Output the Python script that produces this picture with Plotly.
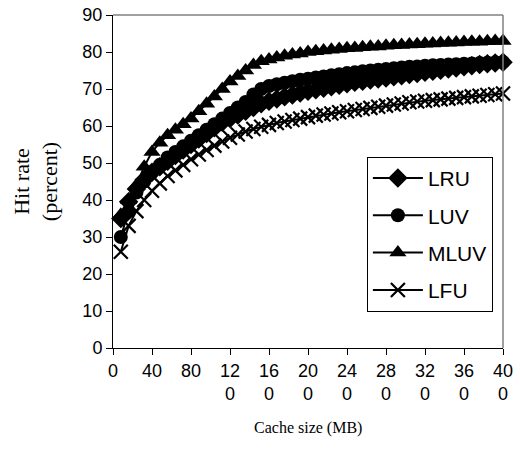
import plotly.graph_objects as go

cache_mb = list(range(8, 401, 8))

lru = [35, 39.5, 43, 45.5, 47.5, 49, 50.5, 52, 53.5, 55, 56.5, 58, 59.5, 61, 62, 63, 64, 65, 66, 66.7,
       67.3, 67.9, 68.4, 68.9, 69.4, 69.8, 70.2, 70.6, 71, 71.4, 71.8, 72.1, 72.4, 72.7, 73, 73.3, 73.6, 73.9, 74.2, 74.5,
       74.8, 75.1, 75.4, 75.7, 76, 76.3, 76.6, 76.8, 77, 77.2]
luv = [30, 37, 42, 45, 47.5, 49.5, 51.5, 53, 54.5, 56, 57.5, 59, 60.5, 62, 63.5, 65, 66.5, 68.5, 70, 70.8,
       71.3, 71.7, 72.1, 72.5, 72.8, 73.1, 73.4, 73.7, 74, 74.3, 74.5, 74.8, 75, 75.2, 75.4, 75.6, 75.8, 76, 76.1, 76.3,
       76.4, 76.5, 76.6, 76.7, 76.8, 76.9, 77, 77.1, 77.2, 77.3]
mluv = [36, 40, 44, 49, 53, 55.5, 57.5, 59, 60.5, 62, 64, 66, 68, 70, 72, 73.5, 75, 76.5, 77.5, 78,
        78.5, 79, 79.3, 79.6, 80, 80.2, 80.4, 80.6, 80.8, 81, 81.1, 81.3, 81.4, 81.5, 81.7, 81.8, 81.9, 82, 82.1, 82.2,
        82.3, 82.4, 82.5, 82.6, 82.7, 82.8, 82.8, 82.9, 83, 83]
lfu = [26, 33, 37, 40, 42.5, 44.5, 46.5, 48, 49.5, 51, 52.3, 53.5, 54.7, 55.8, 56.8, 57.7, 58.5, 59.2, 59.8, 60.3,
       60.8, 61.2, 61.6, 62, 62.4, 62.8, 63.1, 63.4, 63.7, 64, 64.3, 64.6, 64.9, 65.2, 65.5, 65.8, 66.1, 66.4, 66.6, 66.8,
       67, 67.2, 67.4, 67.6, 67.8, 68, 68.2, 68.4, 68.6, 68.8]

x_tickvals = [0, 40, 80, 120, 160, 200, 240, 280, 320, 360, 400]
x_ticktext = ["0", "40", "80", "12<br>0", "16<br>0", "20<br>0", "24<br>0", "28<br>0", "32<br>0", "36<br>0", "40<br>0"]

series = [
    ("LRU", lru, "diamond", 15),
    ("LUV", luv, "circle", 14),
    ("MLUV", mluv, "triangle-up", 15),
    ("LFU", lfu, "x-thin", 14),
]

fig = go.Figure()
for name, vals, sym, size in series:
    marker = dict(symbol=sym, size=size, color="black")
    if sym == "x-thin":
        marker["line"] = dict(width=2.2, color="black")
    fig.add_trace(go.Scatter(
        x=cache_mb, y=vals, name=name, mode="lines+markers",
        line=dict(color="black", width=2), marker=marker,
        cliponaxis=False, legendgroup=name,
    ))

fig.update_layout(
    width=520, height=451,
    margin=dict(l=113, r=17, t=15, b=103, autoexpand=False),
    paper_bgcolor="white", plot_bgcolor="white",
    font=dict(family="Liberation Sans, Arial", color="black"),
    showlegend=True,
    legend=dict(
        x=0.651, y=0.574, xanchor="left", yanchor="top",
        bordercolor="black", borderwidth=1, bgcolor="white",
        font=dict(size=21, family="Liberation Sans, Arial"),
        traceorder="grouped", tracegroupgap=7, itemwidth=50,
    ),
    xaxis=dict(
        range=[0, 400], tickvals=x_tickvals, ticktext=x_ticktext,
        ticks="outside", ticklen=6, tickcolor="black",
        showline=True, linecolor="black", linewidth=1,
        showgrid=False, zeroline=False, automargin=False,
        ticklabeloverflow="allow",
        tickfont=dict(size=18), tickangle=0,
    ),
    yaxis=dict(
        range=[0, 90], dtick=10,
        ticks="outside", ticklen=6, tickcolor="black",
        showline=True, linecolor="black", linewidth=1,
        showgrid=False, zeroline=False, automargin=False,
        ticklabeloverflow="allow",
        tickfont=dict(size=18),
        title=dict(text="Hit rate<br>(percent)", font=dict(family="Liberation Serif, Times New Roman", size=22), standoff=18),
    ),
    shapes=[
        dict(type="line", xref="paper", yref="paper", x0=0, x1=1, y0=1, y1=1,
             line=dict(color="#808080", width=1.5)),
        dict(type="line", xref="paper", yref="paper", x0=1, x1=1, y0=0, y1=1,
             line=dict(color="#808080", width=1.5)),
    ],
    annotations=[
        dict(text="Cache size (MB)", xref="paper", yref="paper", x=0.5, y=-0.24,
             xanchor="center", yanchor="middle", showarrow=False,
             font=dict(family="Liberation Serif, Times New Roman", size=16)),
    ],
)

fig.write_html("out.html", config={"displayModeBar": False},
               post_script="document.body.style.margin='0';")
